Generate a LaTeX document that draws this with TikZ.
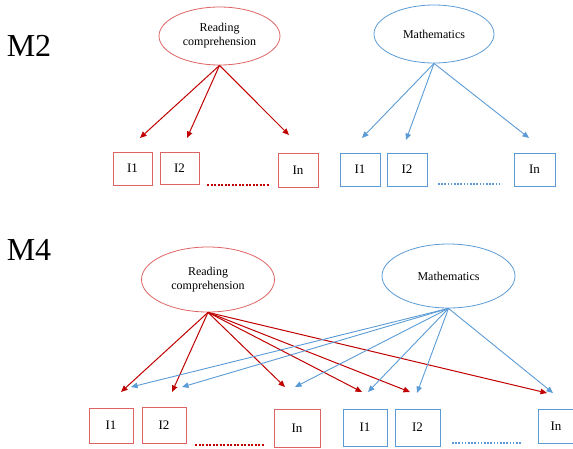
\documentclass[tikz,border=0pt]{standalone}
\usepackage{fontspec}
\setmainfont{Liberation Serif}
\usetikzlibrary{shapes.geometric,arrows.meta}
\definecolor{rdark}{RGB}{192,0,0}
\definecolor{rlight}{RGB}{222,100,100}
\definecolor{bline}{RGB}{91,155,213}

\begin{document}
\begin{tikzpicture}[x=1pt,y=-1pt,
    latent/.style={ellipse,draw,line width=0.8pt,inner sep=0pt,align=center,font=\fontsize{12}{14}\selectfont},
    item/.style={draw,line width=0.8pt,inner sep=0pt,font=\fontsize{13}{15}\selectfont},
    rpath/.style={draw=rdark,line width=1pt,-{Triangle[length=6.5pt,width=5.5pt]}},
    bpath/.style={draw=bline,line width=0.9pt,-{Triangle[length=6.5pt,width=5.5pt]}},
    model/.style={font=\fontsize{32}{34}\selectfont}]
    \useasboundingbox (0,0) rectangle (573,448);
            % M2
            \node[model] (m2) at (29, 46) {M2};
            \node[latent,draw=rlight,minimum width=121pt,minimum height=58pt] (rc1) at (219.5, 36) {Reading\\comprehension};
            \node[latent,draw=bline,minimum width=120pt,minimum height=58pt] (ma1) at (434, 34) {Mathematics};
            \node[item,draw=rlight,minimum width=39pt,minimum height=33pt] (ri1) at (132.5, 168.5) {I1};
            \node[item,draw=rlight,minimum width=39pt,minimum height=32pt] (ri2) at (179.5, 168) {I2};
            \node[item,draw=rlight,minimum width=40pt,minimum height=34pt] (rin) at (298, 170) {In};
            \node[item,draw=bline,minimum width=40pt,minimum height=33pt] (bi1) at (360, 169.5) {I1};
            \node[item,draw=bline,minimum width=40pt,minimum height=33pt] (bi2) at (407, 169.5) {I2};
            \node[item,draw=bline,minimum width=41pt,minimum height=33pt] (bin) at (534.5, 169.5) {In};
            \coordinate (rd1a) at (207, 185);
            \coordinate (rd1b) at (270, 185);
            \draw[rdark,line width=2pt,dash pattern=on 2pt off 1.5pt] (rd1a) -- (rd1b);
            \coordinate (bd1a) at (438, 184);
            \coordinate (bd1b) at (502, 184);
            \draw[bline,line width=1.6pt,dash pattern=on 1.6pt off 1.6pt] (bd1a) -- (bd1b);
            \coordinate (re1) at (140, 138);
            \coordinate (re2) at (187, 138);
            \coordinate (ren) at (289, 135);
            \draw[rpath] (rc1.south) to (re1);
            \draw[rpath] (rc1.south) to (re2);
            \draw[rpath] (rc1.south) to (ren);
            \coordinate (be1) at (362, 138);
            \coordinate (be2) at (406, 140);
            \coordinate (ben) at (529, 138);
            \draw[bpath] (ma1.south) to (be1);
            \draw[bpath] (ma1.south) to (be2);
            \draw[bpath] (ma1.south) to (ben);
            % M4
            \node[model] (m4) at (29, 250) {M4};
            \node[latent,draw=rlight,minimum width=133pt,minimum height=65pt] (rc2) at (208, 279.5) {Reading\\comprehension};
            \node[latent,draw=bline,minimum width=133pt,minimum height=64pt] (ma2) at (448.5, 276) {Mathematics};
            \node[item,draw=rlight,minimum width=44pt,minimum height=35pt] (rj1) at (111, 425.5) {I1};
            \node[item,draw=rlight,minimum width=44pt,minimum height=36pt] (rj2) at (164, 425) {I2};
            \node[item,draw=rlight,minimum width=46pt,minimum height=38pt] (rjn) at (297, 428) {In};
            \node[item,draw=bline,minimum width=44pt,minimum height=37pt] (bj1) at (365, 427.5) {I1};
            \node[item,draw=bline,minimum width=45pt,minimum height=37pt] (bj2) at (417.5, 427.5) {I2};
            \node[item,draw=bline,minimum width=36pt,minimum height=34pt] (bjn) at (556, 426) {In};
            \coordinate (rd2a) at (195, 445);
            \coordinate (rd2b) at (265, 445);
            \draw[rdark,line width=2pt,dash pattern=on 2pt off 1.5pt] (rd2a) -- (rd2b);
            \coordinate (bd2a) at (452, 443);
            \coordinate (bd2b) at (522, 443);
            \draw[bline,line width=1.6pt,dash pattern=on 1.6pt off 1.6pt] (bd2a) -- (bd2b);
            \coordinate (rf1) at (121, 392);
            \coordinate (rf2) at (172, 392);
            \coordinate (rfn) at (285, 387);
            \coordinate (rg1) at (362, 392);
            \coordinate (rg2) at (410, 392);
            \coordinate (rgn) at (547, 393);
            \foreach \e in {rf1,rf2,rfn,rg1,rg2,rgn}
                \draw[rpath] (rc2.south) to (\e);
            \coordinate (bf1) at (131, 387);
            \coordinate (bf2) at (182, 387);
            \coordinate (bfn) at (295, 387);
            \coordinate (bg1) at (368, 392);
            \coordinate (bg2) at (417, 393);
            \coordinate (bgn) at (553, 393);
            \foreach \e in {bf1,bf2,bfn,bg1,bg2,bgn}
                \draw[bpath] (ma2.south) to (\e);
        \end{tikzpicture}
\end{document}
